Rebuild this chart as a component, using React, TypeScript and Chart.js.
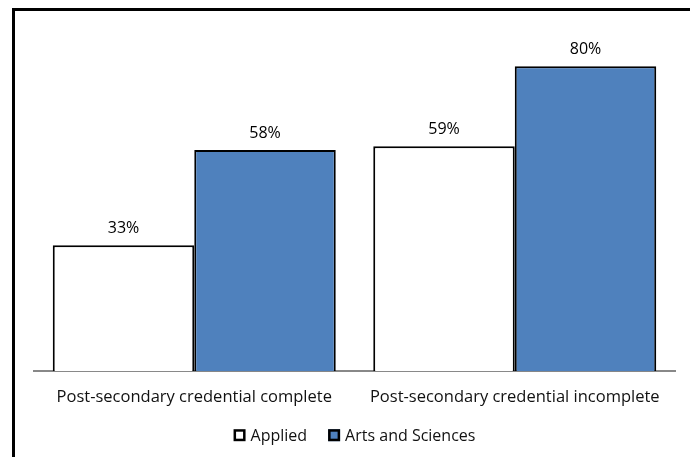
import React, { useEffect, useRef } from "react";
import { Chart, registerables } from "chart.js";

Chart.register(...registerables);

const categories = ["Post-secondary credential complete", "Post-secondary credential incomplete"];
const seriesNames = ["Applied", "Arts and Sciences"];
const appliedValues = [0.33, 0.59];
const artsValues = [0.58, 0.8];
const yMax = 0.9;

const FONT = "'Open Sans', Lato, sans-serif";

const dataLabelPlugin = {
  id: "dataLabels",
  afterDatasetsDraw(chart: any) {
    const ctx = chart.ctx;
    ctx.save();
    ctx.font = `16px ${FONT}`;
    ctx.fillStyle = "#000";
    ctx.textAlign = "center";
    ctx.textBaseline = "alphabetic";
    chart.data.datasets.forEach((ds: any, i: number) => {
      const meta = chart.getDatasetMeta(i);
      meta.data.forEach((el: any, j: number) => {
        const v = ds.data[j];
        ctx.fillText(Math.round(v * 100) + "%", el.x, el.y - 12);
      });
    });
    ctx.restore();
  },
};

const legendPlugin = {
  id: "customLegend",
  afterDraw(chart: any) {
    const ctx = chart.ctx;
    const { left, right, bottom } = chart.chartArea;
    ctx.save();
    ctx.font = `16px ${FONT}`;
    ctx.textBaseline = "middle";
    ctx.textAlign = "left";
    const box = 12;
    const gapText = 5;
    const gapItem = 21;
    const items = chart.data.datasets.map((ds: any) => ({
      label: ds.label,
      fill: ds.backgroundColor,
      w: ctx.measureText(ds.label).width,
    }));
    const total = items.reduce((s: number, it: any) => s + box + gapText + it.w, 0) + gapItem * (items.length - 1);
    let x = (left + right) / 2 - total / 2;
    const y = bottom + 64;
    items.forEach((it: any) => {
      ctx.fillStyle = it.fill;
      ctx.fillRect(x, y - box / 2, box, box);
      ctx.strokeStyle = "#000";
      ctx.lineWidth = 2.5;
      ctx.strokeRect(x + 1.25, y - box / 2 + 1.25, box - 2.5, box - 2.5);
      ctx.fillStyle = "#111";
      ctx.fillText(it.label, x + box + gapText, y + 1);
      x += box + gapText + it.w + gapItem;
    });
    ctx.restore();
  },
};

export default function App() {
  const ref = useRef<HTMLCanvasElement>(null);
  useEffect(() => {
    const chart = new Chart(ref.current!, {
      type: "bar",
      data: {
        labels: categories,
        datasets: [
          {
            label: seriesNames[0],
            data: appliedValues,
            backgroundColor: "#ffffff",
            borderColor: "#000000",
            borderWidth: 2,
          },
          {
            label: seriesNames[1],
            data: artsValues,
            backgroundColor: "#4F81BD",
            borderColor: "#000000",
            borderWidth: 2,
          },
        ],
      },
      options: {
        animation: false,
        responsive: false,
        maintainAspectRatio: false,
        layout: { padding: { left: 34, right: 15, top: 28, bottom: 34 } },
        datasets: { bar: { categoryPercentage: 0.883, barPercentage: 1 } },
        scales: {
          x: {
            grid: { display: false, drawTicks: false },
            border: { display: true, color: "#888888", width: 2 },
            ticks: { color: "#111", font: { family: FONT, size: 16.5 }, padding: 16 },
          },
          y: { display: false, min: 0, max: yMax },
        },
        plugins: {
          legend: { display: false },
          tooltip: { enabled: false },
        },
      },
      plugins: [dataLabelPlugin, legendPlugin],
    });
    return () => chart.destroy();
  }, []);
  return (
    <div style={{ position: "fixed", left: 0, top: 0, width: 690, height: 457, background: "#fff", overflow: "hidden" }}>
      <div
        style={{
          position: "absolute",
          left: 12,
          top: 8,
          width: 720,
          height: 480,
          border: "3px solid #000",
          boxSizing: "border-box",
        }}
      />
      <canvas ref={ref} width={690} height={457} style={{ position: "absolute", left: 0, top: 0 }} />
    </div>
  );
}
